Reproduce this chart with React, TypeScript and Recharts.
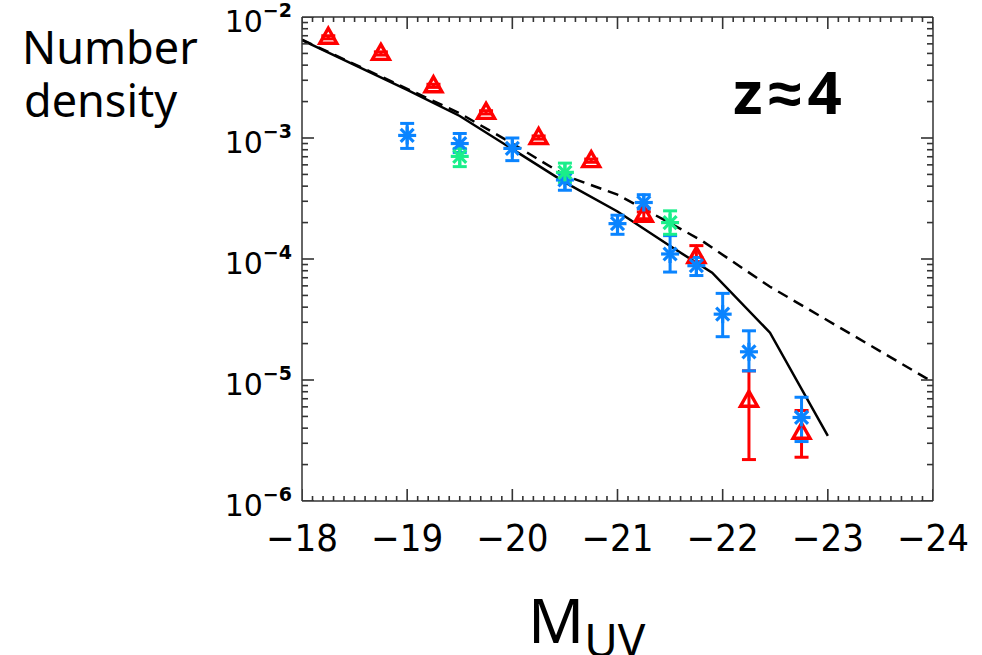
import React from 'react';
import { ComposedChart, Line, Scatter, ErrorBar, XAxis, YAxis, ReferenceLine } from 'recharts';

// model curves (M_UV, number density)
const solidM = [-18, -19, -19.5, -20, -20.5, -21, -21.5, -21.9, -22.45, -23];
const solidN = [6.45e-3, 2.5e-3, 1.52e-3, 8.1e-4, 4.3e-4, 2.47e-4, 1.28e-4, 7.7e-5, 2.46e-5, 3.45e-6];
const dashM = [-18, -19, -19.5, -20, -20.5, -21, -21.5, -21.8, -22.45, -24];
const dashN = [6.5e-3, 2.55e-3, 1.6e-3, 9.0e-4, 4.9e-4, 3.4e-4, 1.98e-4, 1.42e-4, 5.9e-5, 9.6e-6];

// red triangles
const redM = [-18.25, -18.75, -19.25, -19.75, -20.25, -20.75, -21.25, -21.75, -22.25, -22.75];
const redN = [6.8e-3, 5.0e-3, 2.7e-3, 1.63e-3, 1.01e-3, 6.5e-4, 2.3e-4, 1.05e-4, 6.8e-6, 3.7e-6];
const redLo = [6.6e-3, 4.85e-3, 2.62e-3, 1.58e-3, 9.8e-4, 6.3e-4, 2.15e-4, 9.5e-5, 2.2e-6, 2.3e-6];
const redHi = [7.0e-3, 5.15e-3, 2.78e-3, 1.68e-3, 1.04e-3, 6.7e-4, 2.45e-4, 1.29e-4, 1.19e-5, 5.6e-6];

// blue asterisks
const blueM = [-19, -19.5, -20, -20.5, -21, -21.25, -21.5, -21.75, -22, -22.25, -22.75];
const blueN = [1.05e-3, 9.0e-4, 8.2e-4, 4.5e-4, 1.96e-4, 2.93e-4, 1.1e-4, 8.8e-5, 3.5e-5, 1.71e-5, 4.9e-6];
const blueLo = [8.2e-4, 7.6e-4, 6.5e-4, 3.7e-4, 1.6e-4, 2.6e-4, 7.8e-5, 7.3e-5, 2.28e-5, 1.19e-5, 3.1e-6];
const blueHi = [1.32e-3, 1.09e-3, 1.0e-3, 5.1e-4, 2.3e-4, 3.4e-4, 1.56e-4, 1.03e-4, 5.2e-5, 2.55e-5, 7.2e-6];

// green asterisks
const greenM = [-19.5, -20.5, -21.5];
const greenN = [7.05e-4, 5.2e-4, 2.0e-4];
const greenLo = [5.8e-4, 4.3e-4, 1.6e-4];
const greenHi = [8.2e-4, 6.2e-4, 2.5e-4];

const xMajor = [-18, -19, -20, -21, -22, -23, -24];
const xLabels = ['\u221218', '\u221219', '\u221220', '\u221221', '\u221222', '\u221223', '\u221224'];
const yMajor = [1e-2, 1e-3, 1e-4, 1e-5, 1e-6];
const yExp = ['\u22122', '\u22123', '\u22124', '\u22125', '\u22126'];

const TOP = 17;
const RIGHT = 933;
const AXIS = '#333';

const xTicks: number[] = [];
xMajor.forEach((m, i) => {
  xTicks.push(m);
  if (i < xMajor.length - 1) for (let k = 1; k < 10; k++) xTicks.push(+(m - k / 10).toFixed(2));
});
const yTicks: number[] = [];
yMajor.forEach((d, i) => {
  yTicks.push(d);
  if (i > 0) for (let k = 2; k < 10; k++) yTicks.push(d * k);
});

const isXMajor = (v: number) => xMajor.some((m) => Math.abs(m - v) < 1e-6);
const isYMajor = (v: number) => yMajor.some((m) => Math.abs(m - v) / m < 1e-6);

// inward tick marks on all four sides of the frame, placed through the chart's scales
const frameTicks = [
  ...xTicks.map((v) => ({ m: v, n: 1e-6, dir: 'up', len: isXMajor(v) ? 12 : 5 })),
  ...xTicks.map((v) => ({ m: v, n: 1e-2, dir: 'down', len: isXMajor(v) ? 12 : 5 })),
  ...yTicks.map((v) => ({ m: -18, n: v, dir: 'right', len: isYMajor(v) ? 12 : 6 })),
  ...yTicks.map((v) => ({ m: -24, n: v, dir: 'left', len: isYMajor(v) ? 12 : 6 })),
];

const TickMark = (p: any) => {
  const { cx, cy, payload } = p;
  const { dir, len } = payload;
  let d = '';
  if (dir === 'up') d = `M${cx},${cy}V${cy - len}`;
  else if (dir === 'down') d = `M${cx},${cy}V${cy + len}`;
  else if (dir === 'right') d = `M${cx},${cy}H${cx + len}`;
  else d = `M${cx},${cy}H${cx - len}`;
  return <path d={d} stroke={AXIS} strokeWidth={1.6} fill="none" />;
};

const pts = (M: number[], N: number[], lo?: number[], hi?: number[]) =>
  M.map((m, i) => ({ m, n: N[i], err: lo && hi ? [N[i] - lo[i], hi[i] - N[i]] : undefined }));

const renderXTick = (p: any) => {
  const i = xMajor.findIndex((v) => Math.abs(v - p.payload.value) < 1e-6);
  if (i < 0) return <g key={`xt-${p.index}`} />;
  return (
    <text key={`xt-${p.index}`} x={p.x} y={Number(p.y) + 50} textAnchor="middle" fontSize={38} fill="#000"
      stroke="none" fontFamily="'Liberation Sans Narrow', 'DejaVu Sans Condensed', sans-serif">
      {xLabels[i]}
    </text>
  );
};

const renderYTick = (p: any) => {
  const i = yMajor.findIndex((v) => Math.abs(v - p.payload.value) / v < 1e-6);
  if (i < 0) return <g key={`yt-${p.index}`} />;
  return (
    <text key={`yt-${p.index}`} x={Number(p.x) - 10} y={Number(p.y) + 15} textAnchor="end" fontSize={30}
      fill="#000" stroke="none" fontFamily="'DejaVu Sans', sans-serif">
      10
      <tspan dy={-15} fontSize={19} fontWeight="bold">{yExp[i]}</tspan>
    </text>
  );
};

const Triangle = (p: any) => {
  const { cx, cy } = p;
  return (
    <path d={`M${cx},${cy - 9} L${cx + 8.5},${cy + 6} L${cx - 8.5},${cy + 6} Z`}
      fill="none" stroke="#ff0000" strokeWidth={3.4} strokeLinejoin="miter" />
  );
};

const makeStar = (color: string) => (p: any) => {
  const { cx, cy } = p;
  const r = 9;
  const d = r * 0.72;
  return (
    <g stroke={color} strokeWidth={3.2}>
      <line x1={cx} y1={cy - r} x2={cx} y2={cy + r} />
      <line x1={cx - r} y1={cy} x2={cx + r} y2={cy} />
      <line x1={cx - d} y1={cy - d} x2={cx + d} y2={cy + d} />
      <line x1={cx - d} y1={cy + d} x2={cx + d} y2={cy - d} />
    </g>
  );
};

const BLUE = '#0a84ff';
const GREEN = '#1aee8a';

export default function App() {
  return (
    <div style={{ position: 'absolute', left: 0, top: 0, width: 982, height: 655, background: '#fff' }}>
      <ComposedChart width={982} height={655} margin={{ top: TOP, right: 982 - RIGHT, bottom: 0, left: 0 }}>
        <XAxis dataKey="m" type="number" domain={[-24, -18]} reversed ticks={xTicks} interval={0}
          allowDataOverflow height={154} tickSize={0} tickMargin={0} tick={renderXTick}
          axisLine={{ stroke: AXIS, strokeWidth: 1.5 }} tickLine={false} />
        <YAxis type="number" scale="log" domain={[1e-6, 1e-2]} ticks={yTicks} interval={0}
          allowDataOverflow width={302} tickSize={0} tickMargin={0} tick={renderYTick}
          axisLine={{ stroke: AXIS, strokeWidth: 1.5 }} tickLine={false} />
        <ReferenceLine y={1e-2} stroke={AXIS} strokeWidth={1.5} />
        <ReferenceLine x={-24} stroke={AXIS} strokeWidth={1.5} />
        <Scatter data={frameTicks} dataKey="n" shape={TickMark} isAnimationActive={false} legendType="none" />
        <Line data={pts(solidM, solidN)} dataKey="n" stroke="#000" strokeWidth={2.5} dot={false}
          isAnimationActive={false} type="linear" />
        <Line data={pts(dashM, dashN)} dataKey="n" stroke="#000" strokeWidth={2.5} strokeDasharray="11 7"
          dot={false} isAnimationActive={false} type="linear" />
        <Scatter data={pts(redM, redN, redLo, redHi)} dataKey="n" shape={Triangle} isAnimationActive={false}>
          <ErrorBar dataKey="err" direction="y" width={7} stroke="#ff0000" strokeWidth={3} />
        </Scatter>
        <Scatter data={pts(blueM, blueN, blueLo, blueHi)} dataKey="n" shape={makeStar(BLUE)} isAnimationActive={false}>
          <ErrorBar dataKey="err" direction="y" width={7} stroke={BLUE} strokeWidth={3} />
        </Scatter>
        <Scatter data={pts(greenM, greenN, greenLo, greenHi)} dataKey="n" shape={makeStar(GREEN)} isAnimationActive={false}>
          <ErrorBar dataKey="err" direction="y" width={7} stroke={GREEN} strokeWidth={3} />
        </Scatter>
      </ComposedChart>
      <svg width={982} height={655} style={{ position: 'absolute', left: 0, top: 0, pointerEvents: 'none' }}>
        <g fontFamily="'Noto Sans', sans-serif" fill="#000">
          <text x={22} y={64} fontSize={45}>Number</text>
          <text x={24} y={117} fontSize={45}>density</text>
          <text x={733} y={114} fontSize={60} fontWeight="bold" letterSpacing={6}>z≈4</text>
          <text x={528} y={643} fontSize={62}>
            M<tspan fontSize={46} dy={14}>UV</tspan>
          </text>
        </g>
      </svg>
    </div>
  );
}
